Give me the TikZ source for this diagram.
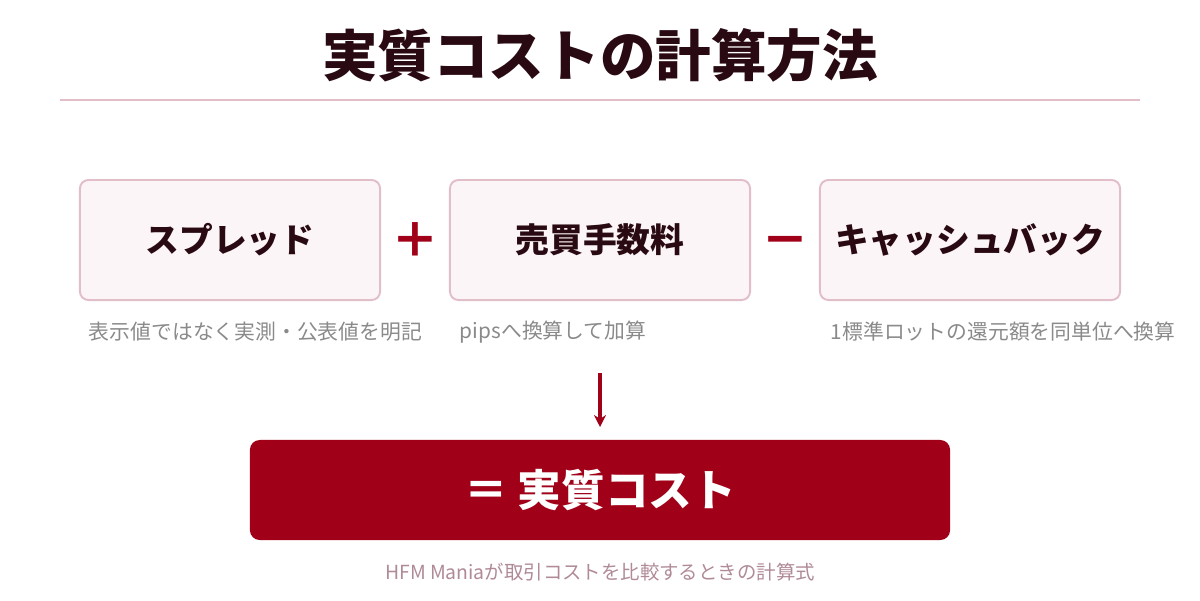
\documentclass[tikz,border=0pt]{standalone}
\usepackage{fontspec}
\setmainfont{Noto Sans CJK JP}
\usetikzlibrary{arrows.meta,positioning}
\definecolor{ink}{HTML}{2A0A12}
\definecolor{brand}{HTML}{A00018}
\definecolor{rule}{HTML}{E2BFC8}
\definecolor{pale}{HTML}{FBF5F7}
\definecolor{note}{HTML}{8A8A8A}
\definecolor{foot}{HTML}{B08A96}

\begin{document}
\begin{tikzpicture}[
  x=0.025cm, y=-0.025cm,
  term/.style={rectangle, draw=rule, line width=1.4pt, fill=pale, rounded corners=6pt,
               minimum width=7.5cm, minimum height=3cm, text=ink,
               font=\fontsize{24}{28}\selectfont\bfseries},
  op/.style={text=brand, font=\fontsize{34}{36}\selectfont\bfseries},
  note/.style={text=note, font=\fontsize{14.8}{17}\selectfont},
  arrow/.style={-{Stealth[length=3mm,width=3mm]}, brand, line width=2.2pt},
]
  \useasboundingbox (0,0) rectangle (1200,600);

  % Title
  \node[text=ink, font=\fontsize{39.5}{42}\selectfont\bfseries] (title) at (600,55) {実質コストの計算方法};
  \draw[rule, line width=1.5pt] (60,100) -- (1140,100);

  % Terms
  \node[term] (spread) at (230,240) {スプレッド};
  \node[term] (fee)    at (600,240) {売買手数料};
  \node[term] (cash)   at (970,240) {キャッシュバック};
  \node[op] (plus)  at (415,240) {＋};
  \node[op] (minus) at (785,247) {－};

  % Notes
  \node[note, anchor=west] (n1) at (84,332)  {表示値ではなく実測・公表値を明記};
  \node[note, anchor=west] (n2) at (455,332) {pipsへ換算して加算};
  \node[note, anchor=west] (n3) at (826,332) {1標準ロットの還元額を同単位へ換算};

  % Result
  \node[rectangle, fill=brand, rounded corners=7pt, minimum width=17.5cm, minimum height=2.5cm,
        text=white, font=\fontsize{31}{34}\selectfont\bfseries] (total) at (600,490) {＝ 実質コスト};
  \coordinate (top) at (600,373);
  \coordinate (tip) at (600,427);
  \draw[arrow] (top) -- (tip);

  \node[text=foot, font=\fontsize{13.8}{16}\selectfont] (foot) at (600,572) {HFM Maniaが取引コストを比較するときの計算式};
\end{tikzpicture}
\end{document}
